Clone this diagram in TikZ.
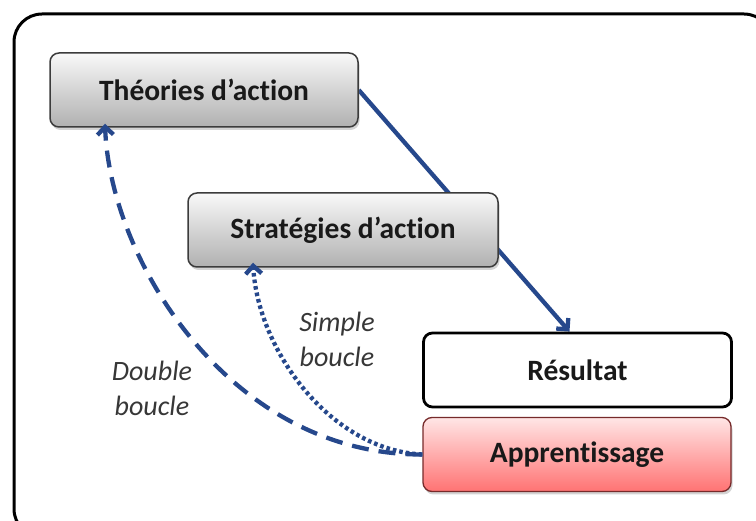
\documentclass[tikz,border=0pt]{standalone}
\usepackage{fontspec}
\setmainfont[Ligatures=NoCommon]{Carlito}
\usetikzlibrary{arrows.meta,shadows,backgrounds}
\definecolor{arrowblue}{RGB}{38,72,140}
\definecolor{boxborder}{RGB}{60,60,60}
\definecolor{labelgray}{RGB}{55,55,55}
\tikzset{
  box/.style={rounded corners=9pt, minimum width=308pt, minimum height=74pt, inner sep=0pt,
    font=\fontsize{29.5}{34}\selectfont\bfseries, text=black!90},
  graybox/.style={box, draw=boxborder, line width=1.5pt, top color=gray!5, bottom color=gray!62,
    drop shadow={shadow xshift=1.5pt, shadow yshift=-3pt, opacity=0.35}},
  whitebox/.style={box, draw=black, line width=2.8pt, fill=white},
  redbox/.style={box, draw=red!30!boxborder, line width=1.3pt, top color=red!10, bottom color=red!55,
    drop shadow={shadow xshift=1.5pt, shadow yshift=-3pt, opacity=0.35}},
  loopline/.style={draw=arrowblue, line width=4.3pt, -{Straight Barb[length=8pt,width=16pt]}},
  looplabel/.style={font=\fontsize{28}{35}\selectfont\itshape, text=labelgray, align=center}
}
\begin{document}
\begin{tikzpicture}[x=1pt,y=-1pt]
\useasboundingbox (0,0) rectangle (756,521);
\draw[line width=3pt, rounded corners=28pt] (14,14) rectangle (772,537);

\node[graybox] (theo) at (204,90) {Théories d’action};
\node[graybox, minimum width=310pt] (strat) at (343,230) {Stratégies d’action};
\node[whitebox] (res) at (577.5,370) {Résultat};
\node[redbox] (app) at (577,454.5) {Apprentissage};

\begin{scope}[on background layer]
\draw[loopline] (theo.east) -- ([xshift=-8pt]res.north);
\end{scope}

\draw[loopline, dash pattern=on 17pt off 10pt] (app.west) .. controls (230,455) and (110,260) .. ([xshift=-99pt,yshift=4pt]theo.south);
\draw[loopline, dash pattern=on 3.6pt off 3pt] (app.west) .. controls (330,450) and (258,350) .. ([xshift=-90pt,yshift=5pt]strat.south);

\node[looplabel] (dbl) at (152,388) {Double\\boucle};
\node[looplabel] (smp) at (337,339) {Simple\\boucle};
\end{tikzpicture}
\end{document}
